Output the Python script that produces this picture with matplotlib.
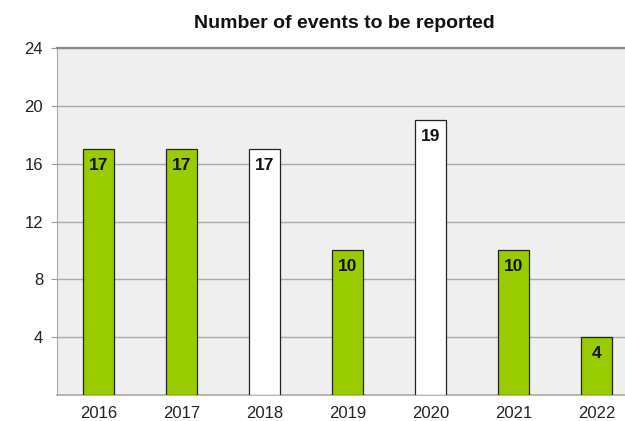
import matplotlib.pyplot as plt
import numpy as np

years = ["2016", "2017", "2018", "2019", "2020", "2021", "2022"]
events = [17, 17, 17, 10, 19, 10, 4]
bar_colors = ["#99cc00", "#99cc00", "#ffffff", "#99cc00", "#ffffff", "#99cc00", "#99cc00"]
y_ticks = [4, 8, 12, 16, 20, 24]

plt.rcParams["font.family"] = ["Liberation Sans", "DejaVu Sans"]

fig = plt.figure(figsize=(6.25, 4.21), dpi=100)
ax = fig.add_axes([57 / 625, 1 - 395 / 421, 1 - 57 / 625, (395 - 48) / 421])
ax.set_facecolor("#efefef")

x = np.arange(len(years))
ax.bar(x, events, width=0.385, color=bar_colors, edgecolor="#222222", linewidth=0.9, zorder=3)

# value labels just inside the top of each bar
for xi, v in zip(x, events):
    ax.annotate(str(v), (xi, v), xytext=(0, -6.5), textcoords="offset points",
                ha="center", va="top", fontsize=12.5, fontweight="bold", color="#111111", zorder=4)

ax.set_xlim(-0.5, (625 - 57) / 83 - 0.5)
ax.set_ylim(0, 24)
ax.set_yticks(y_ticks)
ax.set_xticks(x)
ax.set_xticklabels(years)
ax.tick_params(axis="y", length=4, color="#999999", labelsize=12, pad=6, labelcolor="#222222")
ax.tick_params(axis="x", length=0, labelsize=12, pad=8, labelcolor="#222222")
ax.grid(axis="y", color="#aaaaaa", linewidth=1, zorder=1)

ax.spines["right"].set_visible(False)
ax.spines["top"].set_color("#888888")
ax.spines["top"].set_linewidth(1.6)
ax.spines["left"].set_color("#aaaaaa")
ax.spines["bottom"].set_color("#aaaaaa")
ax.spines["bottom"].set_linewidth(1.2)

fig.text(0.5 * (192 + 497) / 625, 1 - 23 / 421, "Number of events to be reported",
         ha="center", va="center", fontsize=14, fontweight="bold", color="#111111")

fig.savefig("out.png", dpi=100)
